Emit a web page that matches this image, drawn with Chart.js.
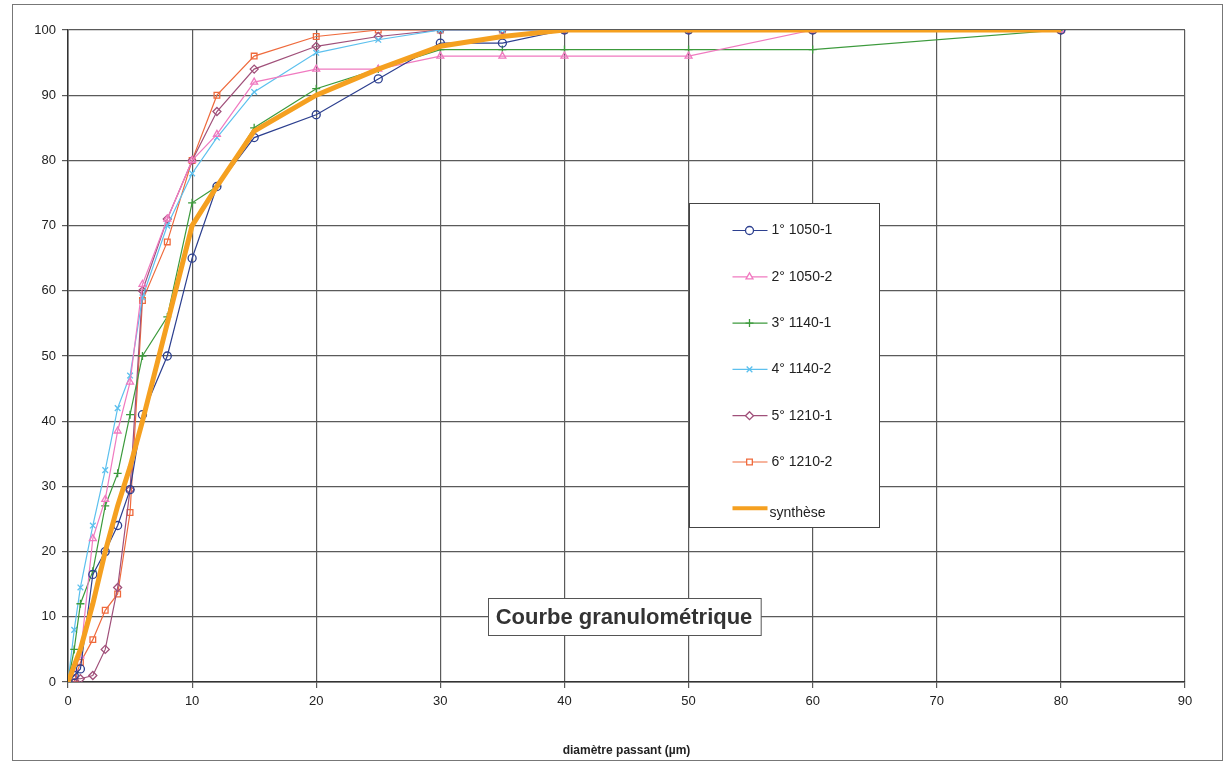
<!DOCTYPE html>
<html>
<head>
<meta charset="utf-8">
<script src="https://cdn.jsdelivr.net/npm/chart.js@4"></script>
<style>
  html, body { margin: 0; padding: 0; background: #fff; }
  #wrap { width: 1230px; height: 762px; position: relative; }
</style>
</head>
<body>
<div id="wrap"><canvas id="chart" width="1230" height="762"></canvas></div>
<script>
// diamètre passant (µm) and cumulative % for each sample
const diameters = [0, 0.5, 1, 2, 3, 4, 5, 6, 8, 10, 12, 15, 20, 25, 30, 35, 40, 50, 60, 80];

const s1050_1 = [0, 1, 2, 16.5, 20, 24, 29.5, 41, 50, 65, 76, 83.5, 87, 92.5, 98, 98, 100, 100, 100, 100];
const s1050_2 = [0, 2, 4, 22, 28, 38.5, 46, 61, 71, 80, 84, 92, 94, 94, 96, 96, 96, 96, 100, 100];
const s1140_1 = [0, 5, 12, 17, 27, 32, 41, 50, 56, 73.5, 76, 85, 91, 94, 97, 97, 97, 97, 97, 100];
const s1140_2 = [0, 8, 14.5, 24, 32.5, 42, 47, 59, 70, 78, 83.5, 90.5, 96.5, 98.5, 100, 100, 100, 100, 100, 100];
const s1210_1 = [0, 0.5, 0.5, 1, 5, 14.5, 29.5, 60, 71, 80, 87.5, 94, 97.5, 99, 100, 100, 100, 100, 100, 100];
const s1210_2 = [0, 0, 3, 6.5, 11, 13.5, 26, 58.5, 67.5, 80, 90, 96, 99, 100, 100, 100, 100, 100, 100, 100];
const synthese = [0, 2.5, 5, 12, 20, 27, 33, 40, 55, 70, 76, 84.5, 90, 94, 97.5, 99, 100, 100, 100, 100];

const seriesLabels = ["1° 1050-1", "2° 1050-2", "3° 1140-1", "4° 1140-2", "5° 1210-1", "6° 1210-2", "synthèse"];
const xTicks = [0, 10, 20, 30, 40, 50, 60, 70, 80, 90];
const yTicks = [0, 10, 20, 30, 40, 50, 60, 70, 80, 90, 100];

Chart.defaults.font.family = "'Liberation Sans', Arial, sans-serif";
Chart.defaults.color = "#222";

function pts(values) {
  return diameters.map((d, i) => ({ x: d, y: values[i] }));
}

function sample(label, values, color, pointStyle) {
  return {
    label,
    data: pts(values),
    borderColor: color,
    backgroundColor: "transparent",
    borderWidth: 1.2,
    pointStyle,
    pointRadius: 4,
    pointBorderColor: color,
    pointBackgroundColor: "transparent",
    pointBorderWidth: 1.3,
    tension: 0,
  };
}

const datasets = [
  sample(seriesLabels[0], s1050_1, "#2c3f8f", "circle"),
  sample(seriesLabels[1], s1050_2, "#f07ac0", "triangle"),
  sample(seriesLabels[2], s1140_1, "#3c9a3c", "cross"),
  sample(seriesLabels[3], s1140_2, "#5cc0ee", "crossRot"),
  sample(seriesLabels[4], s1210_1, "#a0507a", "rectRot"),
  sample(seriesLabels[5], s1210_2, "#ef6a3c", "rect"),
  {
    label: seriesLabels[6],
    data: pts(synthese),
    borderColor: "#f5a020",
    backgroundColor: "transparent",
    borderWidth: 5,
    pointRadius: 0,
    tension: 0,
    order: -1,
  },
];

// legend box + title box drawn inside the plot, like the spreadsheet original
const overlayPlugin = {
  id: "overlay",
  beforeDraw(chart) {
    const ctx = chart.ctx;
    ctx.save();
    ctx.fillStyle = "#fff";
    ctx.fillRect(0, 0, chart.width, chart.height);
    ctx.strokeStyle = "#777";
    ctx.lineWidth = 1;
    ctx.strokeRect(12.5, 4.5, 1210, 756);
    ctx.restore();
  },
  afterDraw(chart) {
    const ctx = chart.ctx;
    const xs = chart.scales.x, ys = chart.scales.y;
    ctx.save();

    // legend
    const lx = Math.round(xs.getPixelForValue(50)) + 0.5;
    const ly = Math.round(ys.getPixelForValue(73.5)) + 0.5;
    const lw = 190, lh = 324;
    ctx.fillStyle = "#fff";
    ctx.fillRect(lx, ly, lw, lh);
    ctx.strokeStyle = "#444";
    ctx.lineWidth = 1;
    ctx.strokeRect(lx, ly, lw, lh);
    ctx.font = "14px 'Liberation Sans', Arial, sans-serif";
    ctx.textBaseline = "middle";
    chart.data.datasets.forEach((ds, i) => {
      const y = ly + 27 + i * 46.3;
      const isSyn = i === chart.data.datasets.length - 1;
      ctx.strokeStyle = ds.borderColor;
      ctx.lineWidth = isSyn ? 4 : 1.2;
      ctx.beginPath();
      ctx.moveTo(lx + 43, y);
      ctx.lineTo(lx + 78, y);
      ctx.stroke();
      if (!isSyn) {
        ctx.lineWidth = 1.3;
        ctx.fillStyle = "#fff";
        Chart.helpers.drawPoint(ctx, { pointStyle: ds.pointStyle, radius: 4, rotation: 0, borderWidth: 1.3 }, lx + 60, y);
        ctx.fillStyle = "#222";
        ctx.fillText(ds.label, lx + 82, y);
      } else {
        ctx.fillStyle = "#222";
        ctx.fillText(ds.label, lx + 80, y + 5);
      }
    });

    // title box
    const tcx = xs.getPixelForValue(44.8);
    const tcy = ys.getPixelForValue(10);
    ctx.font = "bold 22px 'Liberation Sans', Arial, sans-serif";
    const title = "Courbe granulométrique";
    const tw = ctx.measureText(title).width;
    const bw = tw + 16, bh = 37;
    const bx = Math.round(tcx - bw / 2) + 0.5, by = Math.round(tcy - bh / 2) + 0.5;
    ctx.fillStyle = "#fff";
    ctx.fillRect(bx, by, bw, bh);
    ctx.strokeStyle = "#555";
    ctx.lineWidth = 1;
    ctx.strokeRect(bx, by, bw, bh);
    ctx.fillStyle = "#333";
    ctx.textAlign = "center";
    ctx.textBaseline = "middle";
    ctx.fillText(title, tcx, tcy + 1);

    ctx.restore();
  },
};

new Chart(document.getElementById("chart"), {
  type: "line",
  data: { datasets },
  plugins: [overlayPlugin],
  options: {
    responsive: false,
    animation: false,
    layout: { padding: { top: 30, right: 45, left: 0, bottom: 0 } },
    plugins: {
      legend: { display: false },
      tooltip: { enabled: false },
    },
    scales: {
      x: {
        type: "linear",
        min: 0,
        max: 90,
        afterBuildTicks: (scale) => { scale.ticks = xTicks.map(v => ({ value: v })); },
        afterFit: (scale) => { scale.height = 80; },
        ticks: { color: "#222", font: { size: 13 }, padding: 6 },
        grid: { color: "#5a5a5a", lineWidth: 1.2, tickLength: 6 },
        border: { color: "#333", width: 1.5 },
        title: {
          display: true,
          text: "diamètre passant (µm)",
          color: "#222",
          font: { size: 12, weight: "bold" },
          padding: { top: 12 },
        },
      },
      y: {
        type: "linear",
        min: 0,
        max: 100,
        afterBuildTicks: (scale) => { scale.ticks = yTicks.map(v => ({ value: v })); },
        afterFit: (scale) => { scale.width = 68; },
        ticks: { color: "#222", font: { size: 13 }, padding: 6 },
        grid: { color: "#5a5a5a", lineWidth: 1.2, tickLength: 6 },
        border: { color: "#333", width: 1.5 },
      },
    },
  },
});
</script>
</body>
</html>
